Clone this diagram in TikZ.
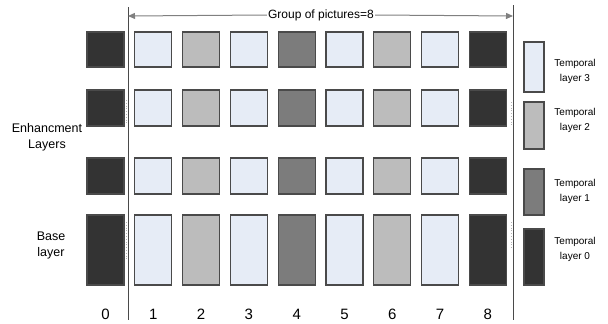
\documentclass[tikz,border=0pt]{standalone}
\usepackage{fontspec}
\setmainfont{Liberation Sans}
\usetikzlibrary{arrows.meta}
\definecolor{cL}{HTML}{E6ECF6}
\definecolor{cM}{HTML}{BCBCBC}
\definecolor{cD}{HTML}{7C7C7C}
\definecolor{cK}{HTML}{333333}
\definecolor{edge}{HTML}{4A4A4A}
\tikzset{
  blk/.style={draw=edge, line width=1.1pt, inner sep=0pt, minimum width=37pt},
  legbox/.style={draw=edge, line width=1.1pt, inner sep=0pt, minimum width=20pt},
  lbl/.style={font=\fontsize{12.5}{13}\selectfont, align=center, inner sep=0pt},
  leg/.style={font=\fontsize{10}{15}\selectfont, align=center, inner sep=0pt},
  num/.style={font=\fontsize{15}{16}\selectfont, inner sep=0pt},
  vline/.style={draw=edge, line width=1pt},
  dotseg/.style={draw=gray!60, line width=0.8pt, dotted}
}
\begin{document}
\begin{tikzpicture}[x=1pt,y=-1pt]
\useasboundingbox (0,0) rectangle (608,324);
% rows: center y, height
\def\cols{cK,cL,cM,cL,cD,cL,cM,cL,cK}
\foreach \r/\cy/\h in {1/49.5/35, 2/108/36, 3/176/36, 4/250/70}{
  \foreach \c/\col [count=\i from 0] in {0/cK,1/cL,2/cM,3/cL,4/cD,5/cL,6/cM,7/cL,8/cK}{
    \node[blk, fill=\col, minimum height=\h pt] (b\r-\c) at ({105.5+47.8*\c},\cy) {};
  }
}
% numbers
\foreach \c in {0,...,8}{
  \node[num] (n\c) at ({105.5+47.8*\c},314) {\c};
}
% vertical lines
\coordinate (lt) at (128,7);
\coordinate (lb) at (128,320);
\coordinate (rt) at (513,5);
\coordinate (rb) at (513,320);
\draw[vline] (lt) -- (lb);
\draw[vline] (rt) -- (rb);
\coordinate (la) at (128,16);
\coordinate (ra) at (513,16);
\coordinate (d1a) at (126,100); \coordinate (d1b) at (126,125);
\coordinate (d2a) at (126,222); \coordinate (d2b) at (126,259);
\coordinate (d3a) at (511,102); \coordinate (d3b) at (511,127);
\coordinate (d4a) at (511,222); \coordinate (d4b) at (511,249);
\draw[dotseg] (d1a) -- (d1b);
\draw[dotseg] (d2a) -- (d2b);
\draw[dotseg] (d3a) -- (d3b);
\draw[dotseg] (d4a) -- (d4b);
% group arrow
\node[font=\fontsize{12}{13}\selectfont, inner sep=1pt] (gop) at (321,15) {Group of pictures=8};
\draw[draw=gray, line width=1pt, -{Triangle[length=7pt,width=6pt]}] (gop.west) -- (la);
\draw[draw=gray, line width=1pt, -{Triangle[length=7pt,width=6pt]}] (gop.east) -- (ra);
% side labels
\node[lbl] (enh) at (47,137) {Enhancment\\[3pt]Layers};
\node[lbl] (base) at (51,245.5) {Base\\[3pt]layer};
% legend
\node[legbox, fill=cL, minimum height=50pt] (l3) at (534,67) {};
\node[legbox, fill=cM, minimum height=47pt] (l2) at (534,125.5) {};
\node[legbox, fill=cD, minimum height=46pt] (l1) at (534,192) {};
\node[legbox, fill=cK, minimum height=56pt] (l0) at (534,257) {};
\node[leg] (t3) at (575,71.5) {Temporal\\layer 3};
\node[leg] (t2) at (575,120) {Temporal\\layer 2};
\node[leg] (t1) at (575,191.5) {Temporal\\layer 1};
\node[leg] (t0) at (575,249.5) {Temporal\\layer 0};
\end{tikzpicture}
\end{document}
